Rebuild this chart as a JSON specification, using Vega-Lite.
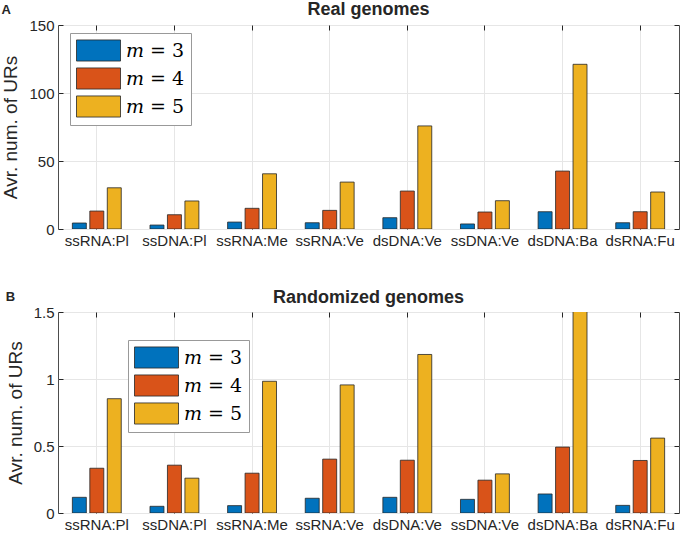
{
  "$schema": "https://vega.github.io/schema/vega-lite/v6.json",
  "padding": {"left": 1, "top": 0, "right": 1, "bottom": 0},
  "background": "white",
  "datasets": {
    "real": [
      {"genome": "ssRNA:Pl", "m": "𝑚 = 3", "value": 4.4},
      {"genome": "ssRNA:Pl", "m": "𝑚 = 4", "value": 13.2},
      {"genome": "ssRNA:Pl", "m": "𝑚 = 5", "value": 30.3},
      {"genome": "ssDNA:Pl", "m": "𝑚 = 3", "value": 2.9},
      {"genome": "ssDNA:Pl", "m": "𝑚 = 4", "value": 10.5},
      {"genome": "ssDNA:Pl", "m": "𝑚 = 5", "value": 20.6},
      {"genome": "ssRNA:Me", "m": "𝑚 = 3", "value": 5.1},
      {"genome": "ssRNA:Me", "m": "𝑚 = 4", "value": 15.2},
      {"genome": "ssRNA:Me", "m": "𝑚 = 5", "value": 40.6},
      {"genome": "ssRNA:Ve", "m": "𝑚 = 3", "value": 4.6},
      {"genome": "ssRNA:Ve", "m": "𝑚 = 4", "value": 13.7},
      {"genome": "ssRNA:Ve", "m": "𝑚 = 5", "value": 34.5},
      {"genome": "dsDNA:Ve", "m": "𝑚 = 3", "value": 8.3},
      {"genome": "dsDNA:Ve", "m": "𝑚 = 4", "value": 27.9},
      {"genome": "dsDNA:Ve", "m": "𝑚 = 5", "value": 75.8},
      {"genome": "ssDNA:Ve", "m": "𝑚 = 3", "value": 3.7},
      {"genome": "ssDNA:Ve", "m": "𝑚 = 4", "value": 12.5},
      {"genome": "ssDNA:Ve", "m": "𝑚 = 5", "value": 20.8},
      {"genome": "dsDNA:Ba", "m": "𝑚 = 3", "value": 12.7},
      {"genome": "dsDNA:Ba", "m": "𝑚 = 4", "value": 42.6},
      {"genome": "dsDNA:Ba", "m": "𝑚 = 5", "value": 121.1},
      {"genome": "dsRNA:Fu", "m": "𝑚 = 3", "value": 4.6},
      {"genome": "dsRNA:Fu", "m": "𝑚 = 4", "value": 12.7},
      {"genome": "dsRNA:Fu", "m": "𝑚 = 5", "value": 27.2}
    ],
    "rand": [
      {"genome": "ssRNA:Pl", "m": "𝑚 = 3", "value": 0.117},
      {"genome": "ssRNA:Pl", "m": "𝑚 = 4", "value": 0.334},
      {"genome": "ssRNA:Pl", "m": "𝑚 = 5", "value": 0.853},
      {"genome": "ssDNA:Pl", "m": "𝑚 = 3", "value": 0.05},
      {"genome": "ssDNA:Pl", "m": "𝑚 = 4", "value": 0.357},
      {"genome": "ssDNA:Pl", "m": "𝑚 = 5", "value": 0.26},
      {"genome": "ssRNA:Me", "m": "𝑚 = 3", "value": 0.055},
      {"genome": "ssRNA:Me", "m": "𝑚 = 4", "value": 0.297},
      {"genome": "ssRNA:Me", "m": "𝑚 = 5", "value": 0.983},
      {"genome": "ssRNA:Ve", "m": "𝑚 = 3", "value": 0.11},
      {"genome": "ssRNA:Ve", "m": "𝑚 = 4", "value": 0.402},
      {"genome": "ssRNA:Ve", "m": "𝑚 = 5", "value": 0.956},
      {"genome": "dsDNA:Ve", "m": "𝑚 = 3", "value": 0.117},
      {"genome": "dsDNA:Ve", "m": "𝑚 = 4", "value": 0.394},
      {"genome": "dsDNA:Ve", "m": "𝑚 = 5", "value": 1.183},
      {"genome": "ssDNA:Ve", "m": "𝑚 = 3", "value": 0.102},
      {"genome": "ssDNA:Ve", "m": "𝑚 = 4", "value": 0.245},
      {"genome": "ssDNA:Ve", "m": "𝑚 = 5", "value": 0.292},
      {"genome": "dsDNA:Ba", "m": "𝑚 = 3", "value": 0.142},
      {"genome": "dsDNA:Ba", "m": "𝑚 = 4", "value": 0.492},
      {"genome": "dsDNA:Ba", "m": "𝑚 = 5", "value": 1.6},
      {"genome": "dsRNA:Fu", "m": "𝑚 = 3", "value": 0.057},
      {"genome": "dsRNA:Fu", "m": "𝑚 = 4", "value": 0.392},
      {"genome": "dsRNA:Fu", "m": "𝑚 = 5", "value": 0.559}
    ]
  },
  "config": {
    "font": "Liberation Sans",
    "view": {"stroke": "#4d4d4d", "strokeWidth": 1},
    "axis": {
      "labelFont": "Liberation Sans",
      "labelFontSize": 15,
      "labelColor": "#262626",
      "titleFont": "Liberation Sans",
      "titleFontSize": 19,
      "titleFontWeight": "normal",
      "titleColor": "#262626",
      "gridColor": "#e6e6e6",
      "domain": false,
      "tickColor": "#262626",
      "tickSize": -5,
      "labelPadding": 9
    },
    "title": {"font": "Liberation Sans", "fontSize": 18, "fontWeight": "bold", "color": "#262626"},
    "legend": {
      "title": null,
      "orient": "none",
      "symbolType": "M-1,-0.96H3V0.96H-1Z",
      "symbolSize": 484,
      "symbolStrokeColor": "#262626",
      "symbolStrokeWidth": 0.8,
      "symbolOpacity": 1,
      "labelFont": "DejaVu Serif",
      "labelFontSize": 19,
      "labelColor": "black",
      "labelOffset": 27,
      "labelLimit": 200,
      "rowPadding": 3,
      "padding": 6,
      "strokeColor": "#999999",
      "fillColor": "white"
    },
    "concat": {"spacing": 39}
  },
  "resolve": {"scale": {"color": "independent"}},
  "vconcat": [
    {
      "title": {"text": "A", "anchor": "start", "frame": "bounds", "fontSize": 13, "offset": -16},
      "vconcat": [
        {
          "width": 621,
          "height": 204,
          "title": {"text": "Real genomes", "offset": -1},
          "data": {"name": "real"},
          "resolve": {"axis": {"x": "independent", "y": "independent"}},
          "layer": [
            {
              "mark": {"type": "bar", "stroke": "#262626", "strokeWidth": 0.8, "clip": true},
              "encoding": {
                "x": {"field": "genome", "type": "nominal", "sort": null,
                      "scale": {"paddingInner": 0.37, "paddingOuter": 0.185},
                      "axis": {"orient": "bottom", "title": null, "labelAngle": 0, "grid": true}},
                "xOffset": {"field": "m", "type": "nominal", "scale": {"paddingInner": 0.2, "paddingOuter": 0}},
                "y": {"field": "value", "type": "quantitative", "scale": {"domain": [0, 150], "nice": false},
                      "axis": {"orient": "left", "title": "Avr. num. of URs", "values": [0, 50, 100, 150], "titlePadding": 8}},
                "color": {"field": "m", "type": "nominal",
                          "scale": {"range": ["#0072BD", "#D95319", "#EDB120"]},
                          "legend": {"legendX": 12, "legendY": 8}}
              }
            },
            {
              "mark": {"type": "bar", "opacity": 0},
              "encoding": {
                "x": {"field": "genome", "type": "nominal", "sort": null,
                      "axis": {"orient": "top", "title": null, "labels": false, "grid": false, "labelPadding": 0, "minExtent": 0, "maxExtent": 0}},
                "xOffset": {"field": "m", "type": "nominal"},
                "y": {"field": "value", "type": "quantitative",
                      "axis": {"orient": "right", "title": null, "labels": false, "grid": false, "values": [0, 50, 100, 150], "labelPadding": 0, "minExtent": 0, "maxExtent": 0}}
              }
            }
          ]
        }
      ]
    },
    {
      "title": {"text": "B", "anchor": "start", "frame": "bounds", "fontSize": 13, "offset": -16},
      "vconcat": [
        {
          "width": 621,
          "height": 201,
          "title": {"text": "Randomized genomes", "offset": -8},
          "data": {"name": "rand"},
          "resolve": {"axis": {"x": "independent", "y": "independent"}},
          "layer": [
            {
              "mark": {"type": "bar", "stroke": "#262626", "strokeWidth": 0.8, "clip": true},
              "encoding": {
                "x": {"field": "genome", "type": "nominal", "sort": null,
                      "scale": {"paddingInner": 0.37, "paddingOuter": 0.185},
                      "axis": {"orient": "bottom", "title": null, "labelAngle": 0, "grid": true}},
                "xOffset": {"field": "m", "type": "nominal", "scale": {"paddingInner": 0.2, "paddingOuter": 0}},
                "y": {"field": "value", "type": "quantitative", "scale": {"domain": [0, 1.5], "nice": false},
                      "axis": {"orient": "left", "title": "Avr. num. of URs", "values": [0, 0.5, 1, 1.5], "format": "~g", "titlePadding": 8}},
                "color": {"field": "m", "type": "nominal",
                          "scale": {"range": ["#0072BD", "#D95319", "#EDB120"]},
                          "legend": {"legendX": 70, "legendY": 28}}
              }
            },
            {
              "mark": {"type": "bar", "opacity": 0},
              "encoding": {
                "x": {"field": "genome", "type": "nominal", "sort": null,
                      "axis": {"orient": "top", "title": null, "labels": false, "grid": false, "labelPadding": 0, "minExtent": 0, "maxExtent": 0}},
                "xOffset": {"field": "m", "type": "nominal"},
                "y": {"field": "value", "type": "quantitative",
                      "axis": {"orient": "right", "title": null, "labels": false, "grid": false, "values": [0, 0.5, 1, 1.5], "labelPadding": 0, "minExtent": 0, "maxExtent": 0}}
              }
            }
          ]
        }
      ]
    }
  ]
}
